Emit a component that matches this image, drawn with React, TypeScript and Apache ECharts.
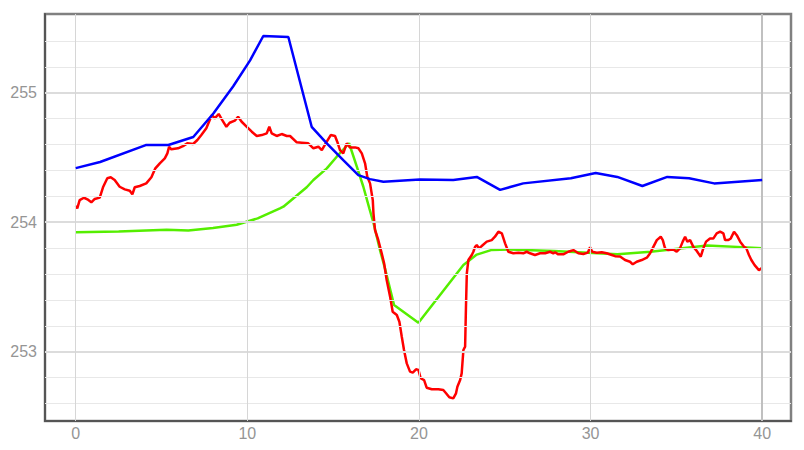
import React, { useEffect, useRef } from "react";
import * as echarts from "echarts";

const xTicks = [0, 10, 20, 30, 40];
const yTicks = [253, 254, 255];
const yMinor = [252.6, 252.8, 253.2, 253.4, 253.6, 253.8, 254.2, 254.4, 254.6, 254.8, 255.2, 255.4];

const blue: [number, number][] = [
  [0, 254.418], [1.42, 254.465], [4.08, 254.596], [5.4, 254.596], [6.85, 254.658],
  [8.02, 254.84], [9.18, 255.05], [10.16, 255.25], [10.93, 255.438], [12.39, 255.43],
  [13.75, 254.737], [14.63, 254.609], [15.59, 254.48], [16.47, 254.364], [17.15, 254.333],
  [17.93, 254.313], [20.06, 254.33], [22.0, 254.326], [23.37, 254.35], [24.73, 254.25],
  [26.08, 254.3], [28.85, 254.34], [30.3, 254.38], [31.56, 254.35], [33.02, 254.28],
  [34.47, 254.35], [35.74, 254.34], [37.2, 254.3], [40, 254.326],
];

const green: [number, number][] = [
  [0, 253.922], [2.5, 253.928], [5.3, 253.942], [6.56, 253.937], [8, 253.955],
  [9.38, 253.98], [10.6, 254.03], [11.9, 254.107], [12.1, 254.12], [13.46, 254.27],
  [13.85, 254.326], [14.63, 254.416], [15.21, 254.506], [15.93, 254.61], [16.38, 254.43],
  [16.76, 254.274], [17.11, 254.107], [17.34, 254.0], [17.73, 253.785], [18.02, 253.644],
  [18.55, 253.36], [19.97, 253.224], [22.59, 253.67], [23.37, 253.75], [24.2, 253.785],
  [25.3, 253.79], [27.87, 253.778], [31.56, 253.752], [33.5, 253.772], [36.8, 253.82],
  [40, 253.8],
];

const red: [number, number][] = [
  [0.0, 254.125], [0.09, 254.107], [0.23, 254.171], [0.48, 254.189], [0.68, 254.177],
  [0.91, 254.154], [1.11, 254.18], [1.4, 254.19], [1.59, 254.27], [1.84, 254.34],
  [2.04, 254.347], [2.27, 254.326], [2.56, 254.274], [2.86, 254.254], [3.15, 254.243],
  [3.3, 254.215], [3.44, 254.27], [3.73, 254.28], [4.11, 254.3], [4.41, 254.347],
  [4.64, 254.416], [4.9, 254.455], [5.19, 254.493], [5.34, 254.532], [5.44, 254.583],
  [5.57, 254.563], [5.96, 254.571], [6.25, 254.588], [6.5, 254.609], [6.84, 254.604],
  [7.09, 254.635], [7.32, 254.673], [7.61, 254.725], [7.81, 254.79], [7.94, 254.828],
  [8.1, 254.802], [8.33, 254.836], [8.53, 254.79], [8.78, 254.737], [8.97, 254.768],
  [9.27, 254.784], [9.46, 254.815], [9.67, 254.776], [9.97, 254.737], [10.26, 254.699],
  [10.55, 254.666], [10.84, 254.673], [11.13, 254.686], [11.28, 254.737], [11.42, 254.686],
  [11.71, 254.666], [12.0, 254.681], [12.3, 254.666], [12.49, 254.666], [12.88, 254.617],
  [13.17, 254.614], [13.55, 254.609], [13.85, 254.571], [14.14, 254.583], [14.34, 254.557],
  [14.63, 254.622], [14.86, 254.673], [15.11, 254.666], [15.24, 254.622], [15.4, 254.557],
  [15.59, 254.532], [15.79, 254.609], [15.98, 254.578], [16.28, 254.578], [16.47, 254.571],
  [16.67, 254.532], [16.86, 254.455], [16.99, 254.351], [17.15, 254.3], [17.31, 254.171],
  [17.35, 254.069], [17.44, 253.94], [17.63, 253.863], [17.83, 253.76], [17.97, 253.683],
  [18.12, 253.554], [18.32, 253.425], [18.47, 253.309], [18.71, 253.283], [18.86, 253.232],
  [19.0, 253.116], [19.13, 253.013], [19.29, 252.91], [19.48, 252.846], [19.64, 252.838],
  [19.83, 252.864], [19.97, 252.86], [20.1, 252.795], [20.3, 252.781], [20.45, 252.722],
  [20.75, 252.71], [21.13, 252.71], [21.42, 252.704], [21.58, 252.679], [21.77, 252.648],
  [22.0, 252.64], [22.16, 252.679], [22.24, 252.73], [22.4, 252.781], [22.49, 252.833],
  [22.59, 253.013], [22.69, 253.039], [22.74, 253.347], [22.79, 253.605], [22.88, 253.708],
  [23.08, 253.747], [23.17, 253.772], [23.27, 253.81], [23.37, 253.824], [23.5, 253.798],
  [23.66, 253.816], [23.95, 253.85], [24.24, 253.862], [24.43, 253.888], [24.63, 253.927],
  [24.83, 253.914], [25.02, 253.837], [25.21, 253.772], [25.5, 253.76], [25.79, 253.765],
  [26.08, 253.76], [26.28, 253.772], [26.47, 253.76], [26.76, 253.747], [27.06, 253.76],
  [27.35, 253.76], [27.64, 253.772], [27.83, 253.76], [27.93, 253.768], [28.12, 253.752],
  [28.41, 253.752], [28.7, 253.772], [29.0, 253.785], [29.29, 253.76], [29.58, 253.755],
  [29.84, 253.765], [29.97, 253.806], [30.1, 253.772], [30.36, 253.765], [30.65, 253.768],
  [30.94, 253.76], [31.24, 253.747], [31.43, 253.738], [31.72, 253.735], [32.01, 253.708],
  [32.3, 253.695], [32.46, 253.675], [32.69, 253.695], [32.98, 253.708], [33.28, 253.726],
  [33.47, 253.76], [33.66, 253.81], [33.86, 253.862], [34.09, 253.888], [34.21, 253.862],
  [34.34, 253.798], [34.53, 253.785], [34.82, 253.79], [35.02, 253.772], [35.21, 253.798],
  [35.37, 253.85], [35.51, 253.888], [35.64, 253.85], [35.8, 253.862], [35.99, 253.81],
  [36.15, 253.785], [36.28, 253.76], [36.42, 253.734], [36.57, 253.798], [36.73, 253.85],
  [36.96, 253.875], [37.16, 253.875], [37.35, 253.914], [37.55, 253.927], [37.74, 253.914],
  [37.84, 253.862], [38.03, 253.862], [38.17, 253.875], [38.36, 253.927], [38.52, 253.9],
  [38.72, 253.85], [38.94, 253.81], [39.08, 253.798], [39.23, 253.747], [39.37, 253.708],
  [39.56, 253.669], [39.81, 253.63], [40.0, 253.649],
];

const LABEL_FONT = "'Liberation Sans', Arial, sans-serif";

export default function App() {
  const ref = useRef<HTMLDivElement>(null);
  useEffect(() => {
    if (!ref.current) return;
    const chart = echarts.init(ref.current, undefined, { renderer: "svg" });
    const gridLines: any[] = [
      ...yMinor.map((v) => ({ yAxis: v, lineStyle: { color: "#e8e8e8", width: 1, type: "solid" } })),
      ...yTicks.map((v) => ({ yAxis: v, lineStyle: { color: "#dcdcdc", width: 2, type: "solid" } })),
      ...xTicks.map((v, i) => ({
        xAxis: v,
        lineStyle: {
          color: i === xTicks.length - 1 ? "#c0c0c0" : "#d6d6d6",
          width: i === xTicks.length - 1 ? 2 : 1,
          type: "solid",
        },
      })),
    ];
    chart.setOption({
      animation: false,
      backgroundColor: "#ffffff",
      grid: {
        left: 45,
        top: 14,
        right: 13,
        bottom: 29,
        show: true,
        borderColor: "#808080",
        borderWidth: 2.5,
        backgroundColor: "transparent",
      },
      xAxis: {
        type: "value",
        min: -1.79,
        max: 41.68,
        splitLine: { show: false },
        axisTick: { show: false },
        axisLine: { show: true, onZero: false, lineStyle: { color: "#555555", width: 2 } },
        axisLabel: {
          customValues: xTicks,
          color: "#959595",
          fontSize: 16,
          fontFamily: LABEL_FONT,
          margin: 4,
          showMinLabel: true,
          showMaxLabel: true,
        },
      },
      yAxis: {
        type: "value",
        min: 252.465,
        max: 255.608,
        splitLine: { show: false },
        axisTick: { show: false },
        axisLine: { show: true, onZero: false, lineStyle: { color: "#555555", width: 2 } },
        axisLabel: {
          customValues: yTicks,
          color: "#959595",
          fontSize: 16,
          fontFamily: LABEL_FONT,
          margin: 8,
        },
      },
      series: [
        {
          name: "grid",
          type: "line",
          data: [],
          z: 1,
          silent: true,
          markLine: {
            silent: true,
            symbol: ["none", "none"],
            label: { show: false },
            emphasis: { disabled: true },
            animation: false,
            data: gridLines,
          },
        },
        {
          name: "green",
          type: "line",
          data: green,
          showSymbol: false,
          z: 3,
          lineStyle: { color: "#55ee00", width: 2.5 },
          itemStyle: { color: "#55ee00" },
        },
        {
          name: "red",
          type: "line",
          data: red,
          showSymbol: false,
          z: 4,
          lineStyle: { color: "#ff0000", width: 2.5 },
          itemStyle: { color: "#ff0000" },
        },
        {
          name: "blue",
          type: "line",
          data: blue,
          showSymbol: false,
          z: 5,
          lineStyle: { color: "#0000ff", width: 2.5 },
          itemStyle: { color: "#0000ff" },
        },
      ],
    });
    return () => chart.dispose();
  }, []);
  return <div ref={ref} style={{ width: 804, height: 450, position: "absolute", left: 0, top: 0 }} />;
}
